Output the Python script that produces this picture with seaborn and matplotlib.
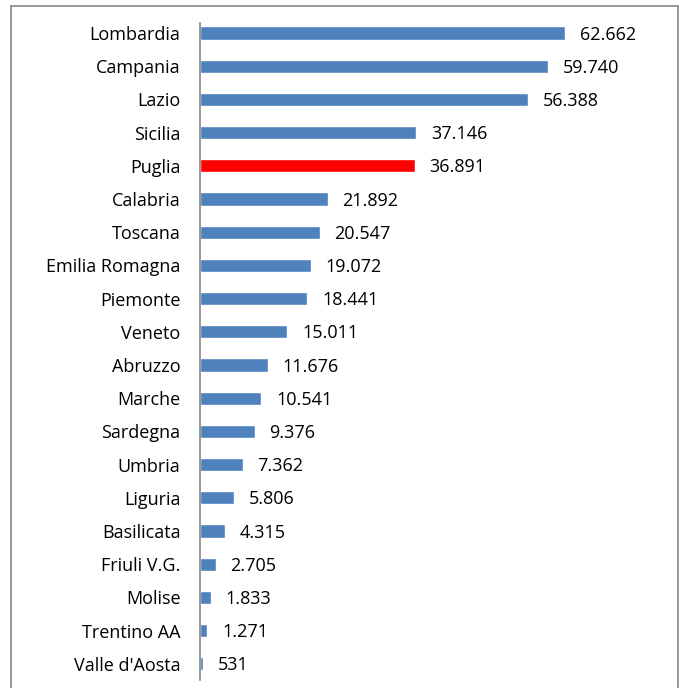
import matplotlib
matplotlib.use("Agg")
import matplotlib.pyplot as plt
from matplotlib.patches import Rectangle
import seaborn as sns
import pandas as pd

regioni = ["Lombardia", "Campania", "Lazio", "Sicilia", "Puglia", "Calabria",
           "Toscana", "Emilia Romagna", "Piemonte", "Veneto", "Abruzzo", "Marche",
           "Sardegna", "Umbria", "Liguria", "Basilicata", "Friuli V.G.", "Molise",
           "Trentino AA", "Valle d'Aosta"]
valori = [62662, 59740, 56388, 37146, 36891, 21892, 20547, 19072, 18441, 15011,
          11676, 10541, 9376, 7362, 5806, 4315, 2705, 1833, 1271, 531]
evidenziata = "Puglia"

df = pd.DataFrame({"regione": regioni, "valore": valori})
palette = {r: ("#FF0000" if r == evidenziata else "#4F81BD") for r in regioni}

sns.set_style("white")
plt.rcParams["font.family"] = ["Open Sans", "DejaVu Sans"]

W, H = 681, 688
fig = plt.figure(figsize=(W / 100, H / 100), dpi=100)
ax = fig.add_axes([200 / W, (H - 680.4) / H, 460 / W, 664 / H])

sns.barplot(data=df, x="valore", y="regione", hue="regione", palette=palette,
            orient="h", width=0.4, legend=False, saturation=1, ax=ax)

ax.set_xlim(0, 460 / 5.825 * 1000)
ax.set_ylim(len(regioni) - 0.5, -0.5)
ax.set_xlabel("")
ax.set_ylabel("")
ax.set_xticks([])
for s in ("top", "right", "bottom"):
    ax.spines[s].set_visible(False)
ax.spines["left"].set_color("#868686")
ax.spines["left"].set_linewidth(1.2)
ax.spines["left"].set_bounds(len(regioni) - 0.5, -0.3)
ax.tick_params(axis="y", length=0, pad=14, labelsize=13, labelcolor="black")


def fmt(v):
    return f"{v:,}".replace(",", ".")


for i, v in enumerate(valori):
    ax.annotate(fmt(v), xy=(v, i), xytext=(10.5, -1.2), textcoords="offset points",
                va="center", ha="left", fontsize=13, color="black")

# outer frame around the chart
fig.add_artist(Rectangle((11 / W, -0.05), 667 / W, (H - 6) / H + 0.05,
                         transform=fig.transFigure, fill=False,
                         edgecolor="#868686", linewidth=1.2, clip_on=False))

fig.savefig("out.png", dpi=100)
